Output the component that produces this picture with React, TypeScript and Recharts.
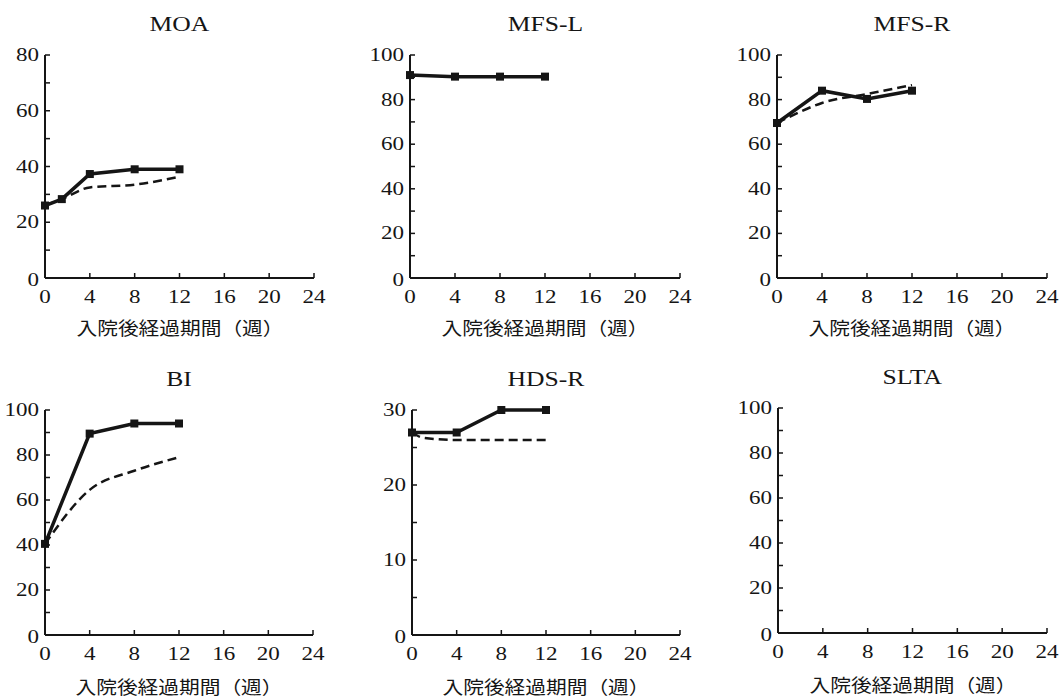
import React from 'react';
import { LineChart, Line, XAxis, YAxis } from 'recharts';

const weekTicks = [0, 4, 8, 12, 16, 20, 24];
const xLabel = '入院後経過期間（週）';

// MOA
const moaSolidWeeks = [0, 1.5, 4, 8, 12];
const moaSolid = [26, 28.3, 37.3, 39, 39];
const moaDashWeeks = [0, 1.5, 4, 8, 12];
const moaDash = [26, 28.3, 32.5, 33.5, 36.3];

// MFS-L
const mfslSolidWeeks = [0, 4, 8, 12];
const mfslSolid = [91, 90.3, 90.3, 90.3];

// MFS-R
const mfsrSolidWeeks = [0, 4, 8, 12];
const mfsrSolid = [69.5, 84, 80.3, 84];
const mfsrDashWeeks = [0, 1, 4, 8, 12];
const mfsrDash = [69.5, 72, 78.5, 82.5, 86.5];

// BI
const biSolidWeeks = [0, 4, 8, 12];
const biSolid = [40.5, 89.5, 94, 94];
const biDashWeeks = [0, 4, 8, 12];
const biDash = [40.5, 64.5, 73, 79];

// HDS-R
const hdsSolidWeeks = [0, 4, 8, 12];
const hdsSolid = [27, 27, 30, 30];
const hdsDashWeeks = [0, 1, 4, 8, 12];
const hdsDash = [27, 26.3, 26, 26, 26];

// SLTA: nothing plotted
const sltaWeeks = [0, 4, 8, 12];
const sltaValues: (number | null)[] = [null, null, null, null];

const toPoints = (weeks: number[], vals: (number | null)[]) => weeks.map((w, i) => ({ w, v: vals[i] }));
const axisFrame = weekTicks.map((w) => ({ w }));

const INK = '#151515';
const SERIF = '"Liberation Serif", "DejaVu Serif", serif';
const JP = '"Noto Sans CJK JP", sans-serif';
const GAP = 6;
const STRETCH = 1.28;

type Pt = { w: number; v: number | null };

type PanelProps = {
  title: string;
  left: number;
  top: number;
  plotW: number;
  plotH: number;
  yMax: number;
  yStep: number;
  yLabelStep: number;
  solid?: Pt[];
  dashed?: Pt[];
  labelGap: number;
  empty?: boolean;
};

const PAD_L = 60;
const PAD_T = 60;
const PAD_R = 20;
const PAD_B = 70;

const Panel = ({ title, left, top, plotW, plotH, yMax, yStep, yLabelStep, solid, dashed, labelGap, empty }: PanelProps) => {
  const yTicks: number[] = [];
  for (let t = 0; t <= yMax; t += yStep) yTicks.push(t);

  const YTick = (props: any) => {
    const { x, y, payload } = props;
    const ax = x + GAP;
    const labeled = payload.value % yLabelStep === 0;
    const isZero = payload.value === 0;
    return (
      <g>
        {!isZero && <line x1={ax} x2={ax + 5} y1={y} y2={y} stroke={INK} strokeWidth={1.5} />}
        {labeled && (
          <text
            transform={`translate(${ax - 6},${isZero ? y + 2 : y}) scale(${STRETCH},1)`}
            textAnchor="end"
            dominantBaseline="central"
            fontFamily={SERIF}
            fontSize={18}
            fill={INK}
          >
            {payload.value}
          </text>
        )}
      </g>
    );
  };

  const XTick = (props: any) => {
    const { x, y, payload } = props;
    const ay = y - GAP;
    return (
      <g>
        {payload.value !== 0 && <line x1={x} x2={x} y1={ay} y2={ay - 5} stroke={INK} strokeWidth={1.5} />}
        <text
          transform={`translate(${x},${ay + 19}) scale(${STRETCH},1)`}
          textAnchor="middle"
          dominantBaseline="central"
          fontFamily={SERIF}
          fontSize={18}
          fill={INK}
        >
          {payload.value}
        </text>
      </g>
    );
  };

  const squareDot = (p: any) =>
    p.value == null ? (
      <g key={`d${p.index}`} />
    ) : (
      <rect key={`d${p.index}`} x={p.cx - 4} y={p.cy - 4} width={8} height={8} fill={INK} />
    );

  return (
    <div style={{ position: 'absolute', left: left - PAD_L, top: top - PAD_T }}>
      <div
        style={{
          position: 'absolute',
          left: PAD_L,
          width: plotW,
          top: PAD_T - 42,
          textAlign: 'center',
          fontFamily: SERIF,
          fontSize: 20,
          lineHeight: '22px',
          color: INK,
        }}
      >
        <span style={{ display: 'inline-block', transform: `scaleX(${STRETCH})` }}>{title}</span>
      </div>
      <LineChart
        width={PAD_L + plotW + PAD_R}
        height={PAD_T + plotH + PAD_B}
        margin={{ top: PAD_T, right: PAD_R, left: 0, bottom: 0 }}
        data={axisFrame}
      >
        <XAxis
          type="number"
          dataKey="w"
          domain={[0, 24]}
          ticks={weekTicks}
          interval={0}
          height={PAD_B}
          tickSize={0}
          tickMargin={GAP}
          tick={XTick}
          axisLine={{ stroke: INK, strokeWidth: 2 }}
        />
        <YAxis
          type="number"
          domain={[0, yMax]}
          ticks={yTicks}
          interval={0}
          width={PAD_L}
          tickSize={0}
          tickMargin={GAP}
          tick={YTick}
          axisLine={{ stroke: INK, strokeWidth: 2 }}
          allowDataOverflow={!!empty}
        />
        {dashed && (
          <Line
            data={dashed}
            dataKey="v"
            type="monotone"
            stroke={INK}
            strokeWidth={2.5}
            strokeDasharray="9 5"
            dot={false}
            isAnimationActive={false}
          />
        )}
        {solid && (
          <Line
            data={solid}
            dataKey="v"
            type="linear"
            stroke={INK}
            strokeWidth={3.5}
            dot={squareDot}
            isAnimationActive={false}
          />
        )}
      </LineChart>
      <div
        style={{
          position: 'absolute',
          left: PAD_L - 40,
          width: plotW + 80,
          top: PAD_T + plotH + labelGap - 10,
          textAlign: 'center',
          fontFamily: JP,
          fontSize: 18,
          lineHeight: '20px',
          color: INK,
        }}
      >
        <span style={{ display: 'inline-block', transform: 'scaleX(1.15)' }}>{xLabel}</span>
      </div>
    </div>
  );
};

export default function App() {
  return (
    <div style={{ position: 'absolute', left: 0, top: 0, width: 1059, height: 698, background: '#fff', overflow: 'hidden' }}>
      <Panel title="MOA" left={45} top={55} plotW={269} plotH={223} yMax={80} yStep={10} yLabelStep={20}
        solid={toPoints(moaSolidWeeks, moaSolid)} dashed={toPoints(moaDashWeeks, moaDash)} labelGap={49} />
      <Panel title="MFS-L" left={410} top={55} plotW={270} plotH={223} yMax={100} yStep={10} yLabelStep={20}
        solid={toPoints(mfslSolidWeeks, mfslSolid)} labelGap={49} />
      <Panel title="MFS-R" left={777} top={55} plotW={270} plotH={223} yMax={100} yStep={10} yLabelStep={20}
        solid={toPoints(mfsrSolidWeeks, mfsrSolid)} dashed={toPoints(mfsrDashWeeks, mfsrDash)} labelGap={49} />
      <Panel title="BI" left={45} top={410} plotW={268} plotH={225} yMax={100} yStep={10} yLabelStep={20}
        solid={toPoints(biSolidWeeks, biSolid)} dashed={toPoints(biDashWeeks, biDash)} labelGap={51} />
      <Panel title="HDS-R" left={412} top={410} plotW={268} plotH={225} yMax={30} yStep={5} yLabelStep={10}
        solid={toPoints(hdsSolidWeeks, hdsSolid)} dashed={toPoints(hdsDashWeeks, hdsDash)} labelGap={51} />
      <Panel title="SLTA" left={778} top={408} plotW={269} plotH={225} yMax={100} yStep={10} yLabelStep={20}
        solid={toPoints(sltaWeeks, sltaValues)} labelGap={51} empty />
    </div>
  );
}
